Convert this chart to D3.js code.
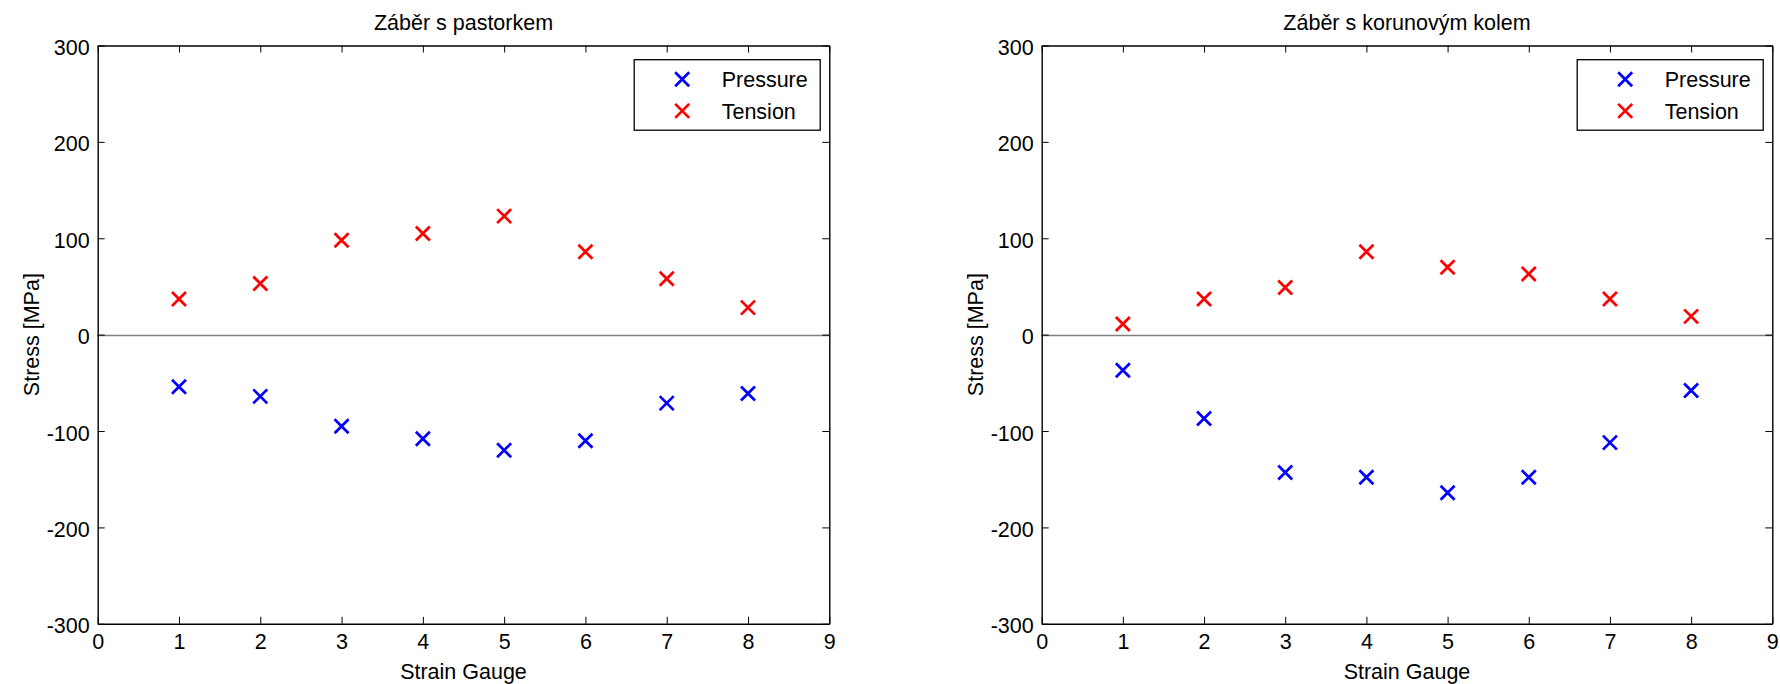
<!DOCTYPE html>
<html>
<head>
<meta charset="utf-8">
<script src="https://cdn.jsdelivr.net/npm/d3@7"></script>
<style>
  html, body { margin: 0; padding: 0; background: #fff; }
  svg text { font-family: "Liberation Sans", Arial, sans-serif; fill: #000; }
</style>
</head>
<body>
<svg id="chart" width="1780" height="684"></svg>
<script>
// Strain gauge positions along the tooth
const gauges = [1, 2, 3, 4, 5, 6, 7, 8];

// Peak stresses [MPa] while meshing with the pinion
const pinionPressure = [-54, -64, -95, -108, -120, -110, -71, -61];
const pinionTension  = [37, 53, 98, 105, 123, 86, 58, 28];

// Peak stresses [MPa] while meshing with the crown wheel
const crownPressure = [-37, -87, -143, -148, -164, -148, -112, -58];
const crownTension  = [11, 37, 49, 86, 70, 63, 37, 19];

const xTicks = [0, 1, 2, 3, 4, 5, 6, 7, 8, 9];
const yTicks = [-300, -200, -100, 0, 100, 200, 300];
const seriesNames = ["Pressure", "Tension"];
const seriesColors = ["#0000ff", "#ff0000"];

const panels = [
  { title: "Záběr s pastorkem", left: 97.7, right: 829.3, pressure: pinionPressure, tension: pinionTension },
  { title: "Záběr s korunovým kolem", left: 1041.7, right: 1772.3, pressure: crownPressure, tension: crownTension }
];

const plotTop = 45.5, plotBottom = 623.8;
const fontSize = 21.5;
const tickLen = 7;
const markerHalf = 7;
const markerStroke = 2.7;
const svg = d3.select("#chart");

// plain hyphen-minus labels
const plainNum = d => String(d);

function crossPath(s) {
  return `M${-s},${-s}L${s},${s}M${-s},${s}L${s},${-s}`;
}

panels.forEach(p => {
  const x = d3.scaleLinear().domain([0, 9]).range([p.left, p.right]);
  const y = d3.scaleLinear().domain([-300, 300]).range([plotBottom, plotTop]);
  const g = svg.append("g");

  // zero reference line
  g.append("line")
    .attr("x1", x(0)).attr("x2", x(9))
    .attr("y1", Math.round(y(0)) + 0.5).attr("y2", Math.round(y(0)) + 0.5)
    .attr("stroke", "#808080").attr("stroke-width", 1.3);

  const styleAxis = sel => {
    sel.select(".domain").attr("stroke", "#000").attr("stroke-width", 1.4);
    sel.selectAll(".tick line").attr("stroke", "#000").attr("stroke-width", 1);
    sel.selectAll("text").style("font-size", fontSize + "px").attr("fill", "#000");
  };

  // bottom axis with labels, ticks pointing inward
  g.append("g")
    .attr("transform", `translate(0,${plotBottom})`)
    .call(d3.axisBottom(x).tickValues(xTicks).tickSizeInner(-tickLen).tickSizeOuter(0).tickPadding(10).tickFormat(plainNum))
    .call(styleAxis);

  // top axis, ticks only
  g.append("g")
    .attr("transform", `translate(0,${plotTop})`)
    .call(d3.axisTop(x).tickValues(xTicks).tickSizeInner(-tickLen).tickSizeOuter(0).tickFormat(""))
    .call(styleAxis);

  // left axis with labels
  const ya = g.append("g")
    .attr("transform", `translate(${p.left},0)`)
    .call(d3.axisLeft(y).tickValues(yTicks).tickSizeInner(-tickLen).tickSizeOuter(0).tickPadding(8).tickFormat(plainNum))
    .call(styleAxis);
  ya.selectAll(".tick text").attr("dy", "0.42em");

  // right axis, ticks only
  g.append("g")
    .attr("transform", `translate(${p.right},0)`)
    .call(d3.axisRight(y).tickValues(yTicks).tickSizeInner(-tickLen).tickSizeOuter(0).tickFormat(""))
    .call(styleAxis);

  // title
  g.append("text")
    .attr("x", (p.left + p.right) / 2).attr("y", 30)
    .attr("text-anchor", "middle")
    .style("font-size", fontSize + "px")
    .text(p.title);

  // axis labels
  g.append("text")
    .attr("x", (p.left + p.right) / 2).attr("y", 679)
    .attr("text-anchor", "middle")
    .style("font-size", fontSize + "px")
    .text("Strain Gauge");

  g.append("text")
    .attr("transform", `translate(${p.left - 58.7},${(plotTop + plotBottom) / 2}) rotate(-90)`)
    .attr("text-anchor", "middle")
    .style("font-size", fontSize + "px")
    .text("Stress [MPa]");

  // data markers
  const series = [p.pressure, p.tension];
  series.forEach((vals, i) => {
    g.append("g").selectAll("path")
      .data(gauges.map((gx, k) => ({ gx, v: vals[k] })))
      .join("path")
      .attr("transform", d => `translate(${x(d.gx)},${y(d.v)})`)
      .attr("d", crossPath(markerHalf))
      .attr("fill", "none")
      .attr("stroke", seriesColors[i])
      .attr("stroke-width", markerStroke);
  });

  // legend
  const lw = 186, lh = 70.5;
  const lx = p.right - 9.6 - lw, ly = 59.2;
  const lg = g.append("g").attr("transform", `translate(${lx},${ly})`);
  lg.append("rect")
    .attr("x", 0.5).attr("y", 0.5).attr("width", lw).attr("height", lh)
    .attr("fill", "#fff").attr("stroke", "#000").attr("stroke-width", 1.3);
  seriesNames.forEach((name, i) => {
    const cy = 20 + i * 31.7;
    lg.append("path")
      .attr("transform", `translate(48.5,${cy})`)
      .attr("d", crossPath(markerHalf))
      .attr("fill", "none")
      .attr("stroke", seriesColors[i])
      .attr("stroke-width", markerStroke);
    lg.append("text")
      .attr("x", 88).attr("y", cy)
      .attr("dy", "0.36em")
      .style("font-size", fontSize + "px")
      .text(name);
  });
});
</script>
</body>
</html>
